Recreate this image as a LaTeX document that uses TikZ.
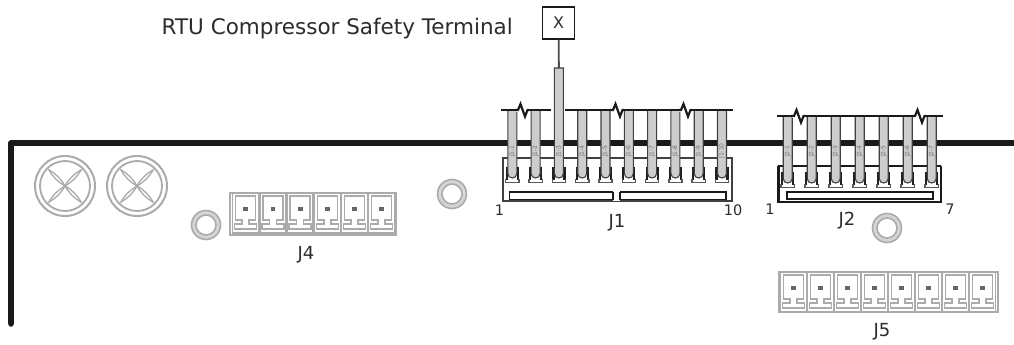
\documentclass[tikz,border=0pt]{standalone}
\usepackage{fontspec}
\setmainfont{DejaVu Sans}
\definecolor{ink}{HTML}{1A1A1A}
\definecolor{pcb}{HTML}{ABABAB}
\definecolor{pinfill}{HTML}{CDCDCD}
\definecolor{txt}{HTML}{2C2C2C}
\tikzset{
  x=1pt,y=-1pt,
  board/.style={ink,line width=5.5pt},
  wirebar/.style={ink,line width=2.2pt},
  pcbline/.style={pcb,line width=1.5pt},
  holeouter/.style={circle,draw=pcb,fill=pcb!50,line width=1.6pt,inner sep=0pt,minimum size=29pt},
  holeinner/.style={circle,draw=pcb,fill=white,line width=1.6pt,inner sep=0pt,minimum size=20pt},
  lbl/.style={text=txt,font=\fontsize{18}{20}\selectfont,inner sep=0pt},
  numlbl/.style={text=txt,font=\fontsize{14.5}{16}\selectfont,inner sep=0pt},
  pinlbl/.style={text=black!55,font=\fontsize{6}{7}\selectfont,inner sep=0pt,rotate=90},
  pinbody/.style={draw=black!75,fill=pinfill,line width=1.1pt},
  xbox/.style={draw=ink,fill=white,line width=1.3pt,minimum width=32pt,minimum height=32pt,inner sep=0pt,font=\fontsize{16}{18}\selectfont,text=txt},
  pics/hdrcell/.style={code={
    \draw[pcbline] (-13,-16) rectangle (13,24);
    \draw[pcbline] (-10,-13) -- (10,-13) -- (10,11) -- (3.5,11) -- (3.5,15) -- (11,15) -- (11,20) -- (-11,20) -- (-11,15) -- (-3.5,15) -- (-3.5,11) -- (-10,11) -- cycle;
    \fill[black!60] (-2.4,-2.4) rectangle (2.4,2.4);
  }},
  pics/petals/.style={code={
    \foreach \a in {45,135,225,315}{
      \draw[pcb,line width=1.3pt,rotate=\a] (0,0) .. controls (8,2.2) and (15,2.2) .. (23,0) .. controls (15,-2.2) and (8,-2.2) .. (0,0);
    }
  }},
  pics/socketcup/.style={code={
    \fill[black!88] (-6.6,-8) rectangle (-4.4,5);
    \fill[black!88] (4.4,-8) rectangle (6.6,5);
    \draw[black!65,line width=1.4pt] (-6.6,4) -- (-6.6,7.5) -- (6.6,7.5) -- (6.6,4);
  }},
  pics/zig/.style={code={
    \fill[white] (-1,-2) rectangle (11,2);
    \draw[wirebar,line join=miter] (-2,0) -- (1,0) -- (3.5,-6) -- (8,6.5) -- (10.5,0) -- (12,0);
  }}
}
\newcommand{\pinat}[4]{% x, top, bottom, text
  \draw[pinbody] (#1-4.5,#2) -- (#1-4.5,#3-4.5) .. controls (#1-4.5,#3-1.5) and (#1-2.2,#3) .. (#1,#3) .. controls (#1+2.2,#3) and (#1+4.5,#3-1.5) .. (#1+4.5,#3-4.5) -- (#1+4.5,#2) -- cycle;
  \node[pinlbl] at (#1,151) {#4};
}
\begin{document}
\begin{tikzpicture}
\useasboundingbox[fill=white] (0,0) rectangle (1014,345);
% board edge
\coordinate (bl) at (11,324);
\coordinate (bc) at (11,143);
\coordinate (br) at (1014,143);
\draw[board,line join=round] (bl) -- (bc) -- (br);
\fill[ink] (bl) circle[radius=2.75];
% mounting hardware
\foreach \n/\cx in {a/65,b/137}{
  \node[circle,draw=pcb,line width=2pt,inner sep=0pt,minimum size=60pt] (s\n) at (\cx,186) {};
  \node[circle,draw=pcb,line width=1.8pt,inner sep=0pt,minimum size=50pt] at (\cx,186) {};
  \pic at (\cx,186) {petals};
}
\foreach \n/\hx/\hy in {h1/206/225,h2/452/194,h3/887/228}{
  \node[holeouter] (\n) at (\hx,\hy) {};
  \node[holeinner] at (\hx,\hy) {};
}
% J4
\draw[pcbline] (230,193) rectangle (396,235);
\foreach \i in {0,...,5}{ \pic at ({245.7+27.2*\i},209) {hdrcell}; }
\node[lbl] (j4) at (306,255) {J4};
% J5
\draw[pcbline] (779,272) rectangle (998,312);
\foreach \i in {0,...,7}{ \pic at ({793.3+27*\i},288) {hdrcell}; }
\node[lbl] (j5) at (882,332) {J5};
% J1 housing
\draw[black!75,line width=1.4pt,fill=white] (503,158) rectangle (732,201);
\draw[ink,line width=1.4pt,fill=white] (509.5,192) rectangle (726,199.5);
\fill[white] (613,190) rectangle (620,201);
\draw[ink,line width=1.4pt] (613,192) -- (613,199.5) (620,192) -- (620,199.5);
% J2 housing
\draw[ink,line width=1.4pt] (778,166) -- (941,166);
\draw[ink,line width=2.8pt] (778.5,166) -- (778.5,202) -- (941,202) -- (941,166);
\draw[ink,line width=2pt,fill=white] (787,192) rectangle (933,199);
% J1 pins
\foreach \i in {1,...,10}{
  \pgfmathsetmacro{\px}{512.3+23.3*(\i-1)}
  \pic at (\px,175) {socketcup};
  \ifnum\i=3\relax\else
    \pinat{\px}{110}{178}{J1-\i}
  \fi
}
\pinat{558.9}{68}{178}{J1-3}
% J2 pins
\foreach \i in {1,...,7}{
  \pgfmathsetmacro{\px}{787.7+24*(\i-1)}
  \pic at (\px,180) {socketcup};
  \pinat{\px}{116}{183}{J2-\i}
}
% wire bars
\draw[wirebar] (501,110) -- (551,110);
\draw[wirebar] (565,110) -- (733,110);
\pic at (517,110) {zig};
\pic at (612,110) {zig};
\pic at (680,110) {zig};
\draw[wirebar] (777,116) -- (943,116);
\pic at (793,116) {zig};
\pic at (914,116) {zig};
% terminal
\node[xbox] (x) at (558.5,23) {X};
\coordinate (pin3top) at (558.9,68);
\draw[black!70,line width=1.8pt] (x) -- (pin3top);
\node[text=txt,font=\fontsize{21.5}{24}\selectfont,inner sep=0pt,anchor=east] (rtu) at (513,29) {RTU Compressor Safety Terminal};
% labels
\node[numlbl] (n1) at (499.5,210) {1};
\node[numlbl] (n10) at (733,210) {10};
\node[lbl] (j1) at (617,223) {J1};
\node[numlbl] (n21) at (770,209) {1};
\node[numlbl] (n27) at (950,209) {7};
\node[lbl] (j2) at (847,221) {J2};
\end{tikzpicture}
\end{document}
